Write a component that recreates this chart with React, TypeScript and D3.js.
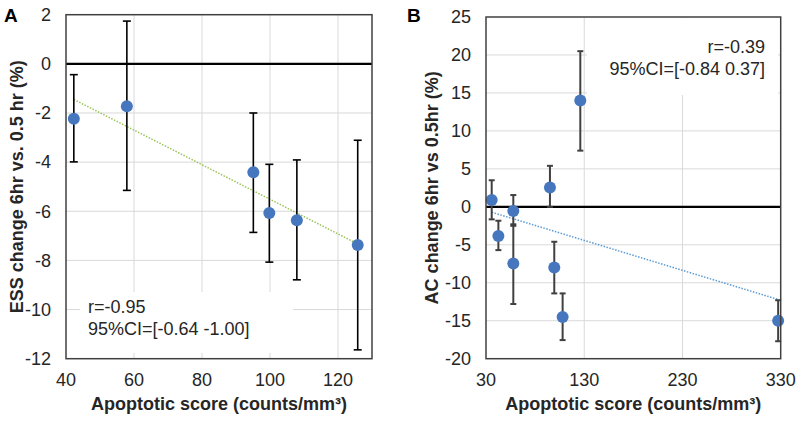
import React from "react";
import * as d3 from "d3";

// ---------- Panel A data ----------
const xA = [42.3, 57.9, 95.1, 99.8, 107.9, 125.8];
const yA = [-2.23, -1.73, -4.41, -6.07, -6.37, -7.37];
const hiA = [-0.44, 1.74, -2.0, -4.09, -3.91, -3.11];
const loA = [-3.99, -5.15, -6.86, -8.07, -8.79, -11.64];
const trendA: [number, number][] = [[42.3, -1.45], [125.8, -7.33]];
const xTicksA = [40, 60, 80, 100, 120];
const yTicksA = [-12, -10, -8, -6, -4, -2, 0, 2];

// ---------- Panel B data ----------
const xB = [35.8, 42.6, 57.8, 57.8, 95.1, 99.5, 108, 126, 327.4];
const yB = [0.9, -3.85, -0.55, -7.45, 2.55, -8.0, -14.5, 14.0, -15.0];
const hiB = [3.5, -1.83, 1.55, -2.5, 5.4, -4.6, -11.4, 20.5, -12.3];
const loB = [-1.65, -5.7, -2.3, -12.8, 0.0, -11.4, -17.55, 7.4, -17.7];
const trendB: [number, number][] = [[35.8, -0.71], [327.4, -12.2]];
const xTicksB = [30, 130, 230, 330];
const yTicksB = [-20, -15, -10, -5, 0, 5, 10, 15, 20, 25];

const FONT = "'Liberation Sans', Arial, sans-serif";
const MARKER = "#4677BE";

type PanelProps = {
  letter: string;
  letterX: number;
  xs: number[]; ys: number[]; his: number[]; los: number[];
  trend: [number, number][];
  xDomain: [number, number]; yDomain: [number, number];
  xRange: [number, number]; yRange: [number, number];
  xTicks: number[]; yTicks: number[];
  yTitle: string; yTitleX: number;
  errColor: string; errWidth: number; capHalf: number;
  trendColor: string;
  box: { x: number; y: number; w: number; h: number };
  notes: string[]; noteX: number; noteY: number; noteAnchor: "start" | "end";
};

function Panel(p: PanelProps) {
  const x = d3.scaleLinear().domain(p.xDomain).range(p.xRange);
  const y = d3.scaleLinear().domain(p.yDomain).range(p.yRange);
  const [x0, x1] = p.xRange;
  const [y0, y1] = [p.yRange[1], p.yRange[0]];
  const line = d3.line<[number, number]>().x((d) => x(d[0])).y((d) => y(d[1]));
  return (
    <g fontFamily={FONT}>
      {/* gridlines */}
      {p.xTicks.filter((t) => t !== p.xDomain[0] && t !== p.xDomain[1]).map((t) => (
        <line key={"gx" + t} x1={x(t)} x2={x(t)} y1={y0} y2={y1} stroke="#d9d9d9" strokeWidth={1} />
      ))}
      {p.yTicks.filter((t) => t !== p.yDomain[0] && t !== p.yDomain[1] && t !== 0).map((t) => (
        <line key={"gy" + t} x1={x0} x2={x1} y1={y(t)} y2={y(t)} stroke="#d9d9d9" strokeWidth={1} />
      ))}
      {/* text box */}
      <rect x={p.box.x} y={p.box.y} width={p.box.w} height={p.box.h} fill="#fff" />
      {/* zero line */}
      <line x1={x0} x2={x1} y1={y(0)} y2={y(0)} stroke="#000" strokeWidth={2.2} />
      {/* trend line */}
      <path d={line(p.trend) || ""} fill="none" stroke={p.trendColor} strokeWidth={1.5} strokeDasharray="1.5,1.5" />
      {/* error bars */}
      {p.xs.map((xv, i) => (
        <g key={"e" + i} stroke={p.errColor} strokeWidth={p.errWidth}>
          <line x1={x(xv)} x2={x(xv)} y1={y(p.his[i])} y2={y(p.los[i])} />
          <line x1={x(xv) - p.capHalf} x2={x(xv) + p.capHalf} y1={y(p.his[i])} y2={y(p.his[i])} />
          <line x1={x(xv) - p.capHalf} x2={x(xv) + p.capHalf} y1={y(p.los[i])} y2={y(p.los[i])} />
        </g>
      ))}
      {/* markers */}
      {p.xs.map((xv, i) => (
        <circle key={"c" + i} cx={x(xv)} cy={y(p.ys[i])} r={6} fill={MARKER} />
      ))}
      {/* border */}
      <rect x={x0} y={y0} width={x1 - x0} height={y1 - y0} fill="none" stroke="#404040" strokeWidth={1.5} />
      {/* tick labels */}
      {p.xTicks.map((t) => (
        <text key={"tx" + t} x={x(t)} y={386} textAnchor="middle" fontSize={18} fill="#262626">{t}</text>
      ))}
      {p.yTicks.map((t) => (
        <text key={"ty" + t} x={x0 - 15} y={y(t)} dy="0.35em" textAnchor="end" fontSize={18} fill="#262626">{t}</text>
      ))}
      {/* axis titles */}
      <text x={(x0 + x1) / 2} y={410} textAnchor="middle" fontSize={18} fontWeight="bold" fill="#262626">
        Apoptotic score (counts/mm³)
      </text>
      <text transform={`translate(${p.yTitleX},${(y0 + y1) / 2}) rotate(-90)`} textAnchor="middle" fontSize={18} fontWeight="bold" fill="#262626">
        {p.yTitle}
      </text>
      {/* notes */}
      {p.notes.map((n, i) => (
        <text key={"n" + i} x={p.noteX} y={p.noteY + i * 22} textAnchor={p.noteAnchor} fontSize={18} fill="#262626">{n}</text>
      ))}
      {/* panel letter */}
      <text x={p.letterX} y={22} fontSize={19} fontWeight="bold" fill="#000">{p.letter}</text>
    </g>
  );
}

export default function App() {
  return (
    <svg width={800} height={421} style={{ position: "absolute", left: 0, top: 0, background: "#fff" }}>
      <rect width={800} height={421} fill="#fff" />
      <Panel
        letter="A" letterX={4}
        xs={xA} ys={yA} his={hiA} los={loA} trend={trendA}
        xDomain={[40, 130]} yDomain={[-12, 2]}
        xRange={[66, 372]} yRange={[358.7, 14.7]}
        xTicks={xTicksA} yTicks={yTicksA}
        yTitle="ESS change 6hr vs. 0.5 hr (%)" yTitleX={23}
        errColor="#000" errWidth={1.6} capHalf={4}
        trendColor="#9BC45A"
        box={{ x: 80, y: 292, w: 213, h: 61 }}
        notes={["r=-0.95", "95%CI=[-0.64 -1.00]"]} noteX={88} noteY={313} noteAnchor="start"
      />
      <Panel
        letter="B" letterX={407}
        xs={xB} ys={yB} his={hiB} los={loB} trend={trendB}
        xDomain={[30, 330]} yDomain={[-20, 25]}
        xRange={[486, 780.7]} yRange={[358.7, 17]}
        xTicks={xTicksB} yTicks={yTicksB}
        yTitle="AC change 6hr vs 0.5hr (%)" yTitleX={438}
        errColor="#404040" errWidth={2} capHalf={3}
        trendColor="#5B9BD5"
        box={{ x: 587, y: 18, w: 191, h: 77 }}
        notes={["r=-0.39", "95%CI=[-0.84 0.37]"]} noteX={765} noteY={53} noteAnchor="end"
      />
    </svg>
  );
}
